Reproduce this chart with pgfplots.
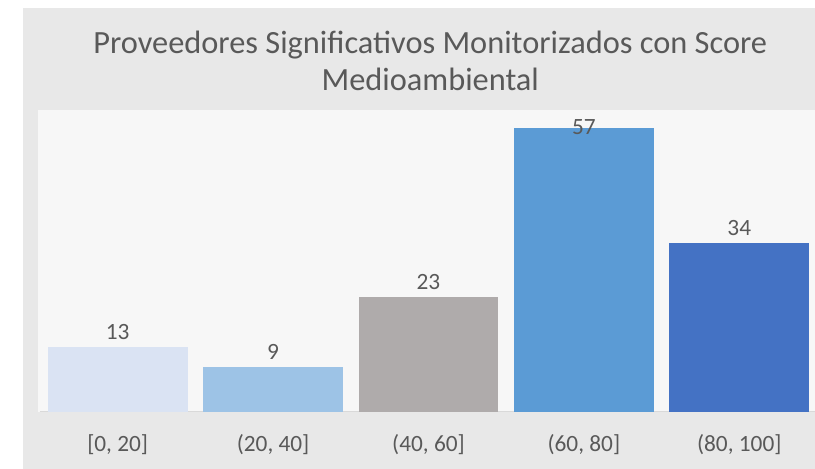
\documentclass[border=0pt]{standalone}
\usepackage{pgfplots}
\pgfplotsset{compat=1.18}
\usepackage{fontspec}
\setmainfont{Carlito}
\definecolor{outerbg}{HTML}{E8E8E8}
\definecolor{plotbg}{HTML}{F7F7F7}
\definecolor{txt}{HTML}{595959}
\definecolor{c1}{HTML}{DAE3F3}
\definecolor{c2}{HTML}{9DC3E6}
\definecolor{c3}{HTML}{AFABAB}
\definecolor{c4}{HTML}{5B9BD5}
\definecolor{c5}{HTML}{4472C4}
\definecolor{axl}{HTML}{D9D9D9}
\begin{document}
\begin{tikzpicture}
\fill[white] (0pt,0pt) rectangle (611.25pt,351.75pt);
\fill[outerbg] (17.25pt,0pt) rectangle (611.25pt,345.75pt);
\fill[plotbg] (28.5pt,42.75pt) rectangle (611.25pt,269.25pt);
\node[font=\fontsize{24.3}{28}\selectfont, text=txt, anchor=base, inner sep=0pt] at (322.9pt,311.8pt)
  {Proveedores Significativos Monitorizados con Score};
\node[font=\fontsize{24.3}{28}\selectfont, text=txt, anchor=base, inner sep=0pt] at (322.9pt,283.7pt)
  {Medioambiental};
\begin{axis}[
  at={(30pt,42.75pt)}, anchor=south west, scale only axis,
  width=581.25pt, height=226.5pt,
  xmin=-0.5, xmax=4.484, ymin=0, ymax=60.64,
  ybar, bar width=0.9,
  hide y axis, axis x line*=bottom,
  axis line style={draw=axl, line width=0.75pt},
  major tick length=0pt,
  xtick={0,1,2,3,4},
  xticklabels={{[0, 20]},{(20, 40]},{(40, 60]},{(60, 80]},{(80, 100]}},
  xticklabel style={font=\fontsize{17.5}{20}\selectfont, text=txt, anchor=center, yshift=-24.75pt},
  /pgf/number format/assume math mode=true,
  nodes near coords,
  every node near coord/.append style={font=\fontsize{17.5}{20}\selectfont, text=txt, anchor=center},
  clip=false,
]
\addplot[fill=c1, draw=none, bar shift=0pt, nodes near coords style={yshift=11.25pt}] coordinates {(0,13)};
\addplot[fill=c2, draw=none, bar shift=0pt, nodes near coords style={yshift=11.25pt}] coordinates {(1,9)};
\addplot[fill=c3, draw=none, bar shift=0pt, nodes near coords style={yshift=11.25pt}] coordinates {(2,23)};
\addplot[fill=c4, draw=none, bar shift=0pt, nodes near coords style={yshift=0.75pt}] coordinates {(3,57)};
\addplot[fill=c5, draw=none, bar shift=0pt, nodes near coords style={yshift=11.25pt}] coordinates {(4,34)};
\end{axis}
\end{tikzpicture}
\end{document}
